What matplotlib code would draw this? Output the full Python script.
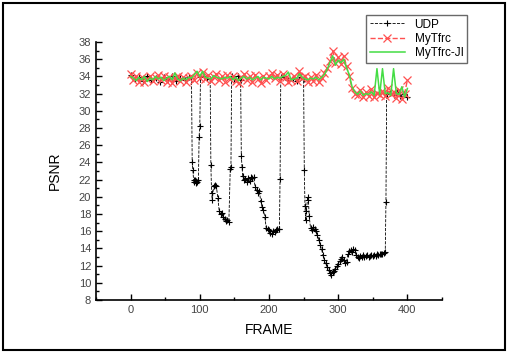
import matplotlib
matplotlib.use('Agg')
import matplotlib.pyplot as plt
from matplotlib.patches import Rectangle
from matplotlib.ticker import MultipleLocator

plt.rcParams['font.family'] = ['Liberation Sans', 'DejaVu Sans']

# MyTfrc and MyTfrc-JI sampled every 4 frames (0..400)
tfrc_frame = list(range(0, 401, 4))
tfrc_psnr = [34.3, 33.6, 34.0, 33.4, 33.9, 33.3, 33.7, 34.1, 33.5, 33.8, 34.2, 33.6, 34.0, 33.4, 33.9, 33.2, 33.8, 34.1, 33.5, 33.9, 33.3, 33.8,
             34.1, 33.6, 34.4, 33.8, 34.5, 33.7, 34.2, 33.5, 33.9, 34.3, 33.6, 34.0, 33.4, 34.2,
             33.7, 34.1, 33.5, 33.2, 33.9, 34.3, 33.6, 34.0, 33.3, 34.2, 33.7, 33.2, 34.1, 33.6, 34.0,
             34.4, 33.8, 34.2, 33.5, 34.3, 33.9, 33.4, 33.6, 34.1, 33.5, 34.6, 33.8, 34.0, 33.4, 33.9, 33.5, 34.2, 33.3, 33.8,
             34.4, 35.0, 35.8, 37.0, 35.6, 36.2, 35.5, 36.4, 35.2, 34.0, 32.6,
             32.0, 31.8, 32.4, 31.6, 32.2, 31.7, 32.5, 31.6, 32.1, 31.8, 32.3, 31.7, 32.6, 31.9, 32.2, 31.5, 32.4, 31.4, 32.0, 33.6]
ji_psnr = [34.0, 33.8, 33.5, 33.9, 33.6, 34.0, 33.4, 33.8, 33.6, 34.0, 33.7, 33.9, 33.5, 33.8, 34.0, 33.6, 34.4, 33.7, 33.5, 33.8, 33.6, 33.9,
           33.8, 34.2, 34.6, 34.0, 34.6, 33.9, 33.8, 33.7, 34.1, 33.9, 33.8, 33.7, 33.9, 33.8,
           34.0, 33.6, 33.9, 33.5, 33.8, 34.0, 33.7, 33.9, 33.6, 33.8, 34.0, 33.6, 33.9, 33.8, 33.7,
           34.0, 33.7, 33.9, 33.8, 34.0, 34.1, 34.5, 33.6, 33.7, 33.8, 34.3, 33.9, 33.7, 33.6, 33.8, 33.7, 33.9, 33.6, 33.9,
           34.2, 34.8, 35.6, 36.4, 35.3, 35.9, 35.6, 36.0, 35.0, 34.2, 32.8,
           32.2, 31.9, 32.3, 31.8, 32.0, 31.9, 32.2, 31.8, 34.9, 31.9, 34.9, 32.0, 32.1, 31.8, 34.9, 32.0, 31.9, 32.8, 31.6, 32.6]

# UDP (irregular frames)
udp_frame = [0, 6, 12, 18, 24, 30, 36, 42, 48, 54, 60, 66, 72, 78, 84,
             88, 89, 90, 91, 92, 93, 94, 95, 96, 98, 99, 100, 101,
             106, 111, 115, 116, 117, 118, 120, 122, 124, 126, 128, 130, 132, 134, 136, 138, 140, 142, 144, 145, 146,
             150, 155, 159, 160, 161, 162, 164, 166, 168, 170, 172, 174, 176, 178, 180, 182, 184, 186, 188, 190,
             192, 194, 196, 198, 200, 202, 204, 206, 208, 210, 212, 214, 215, 216, 217,
             222, 228, 234, 240, 246, 250, 251, 252, 253, 254, 256, 257, 258, 260, 262, 264, 266, 268, 270,
             272, 274, 276, 278, 280, 282, 284, 286, 288, 290, 292, 294, 296, 298, 300, 302, 304, 306, 308,
             310, 312, 314, 316, 318, 320, 322, 324, 326, 328, 330, 332, 334, 336, 338, 340, 342, 344, 346,
             348, 350, 352, 354, 356, 358, 360, 362, 364, 366, 368, 369, 370, 375, 380, 385, 390, 395, 400]
udp_psnr = [34.2, 33.7, 33.9, 33.5, 34.0, 33.6, 33.8, 33.4, 33.9, 33.7, 34.0, 33.5, 33.8, 33.6, 33.9,
            33.8, 24.1, 23.1, 22.0, 21.7, 21.9, 21.6, 21.8, 21.7, 21.9, 27.0, 28.2, 33.9,
            34.0, 33.8, 33.7, 23.7, 20.5, 19.6, 21.3, 21.4, 21.2, 19.9, 18.4, 18.0, 18.1, 17.6, 17.4, 17.2, 17.3, 17.1, 23.2, 23.5, 34.0,
            33.7, 34.1, 33.6, 24.7, 23.5, 22.4, 21.9, 22.1, 21.7, 22.2, 21.8, 22.3, 22.2, 22.3, 21.1, 20.8, 20.5, 20.7, 19.5, 18.8,
            18.5, 17.6, 16.4, 16.3, 16.1, 15.8, 15.7, 16.0, 15.9, 16.1, 16.2, 16.3, 16.2, 22.1, 33.9,
            34.1, 33.6, 33.8, 33.5, 33.9, 33.7, 23.1, 18.9, 17.3, 18.4, 20.0, 19.6, 17.8, 16.4, 16.1, 16.5, 16.2, 16.0, 15.6,
            15.0, 14.4, 13.9, 13.2, 12.7, 12.3, 11.8, 11.5, 11.1, 10.9, 11.3, 11.4, 11.6, 11.9, 12.2, 12.5, 12.8, 13.0, 12.6,
            12.3, 12.4, 13.4, 13.7, 13.8, 13.6, 13.9, 13.8, 13.2, 13.0, 12.9, 13.1, 13.0, 13.2, 13.0, 13.1, 13.2, 13.0, 13.1,
            13.2, 13.1, 13.2, 13.1, 13.3, 13.2, 13.3, 13.4, 13.3, 13.5, 13.6, 19.4, 31.9, 32.1, 31.8, 32.2, 31.7, 32.0, 31.6]

fig = plt.figure(figsize=(5.08, 3.53), dpi=100)
ax = fig.add_axes([96/508, 53/353, 346/508, 258/353])

ax.plot(udp_frame, udp_psnr, '--', color='black', lw=0.6, marker='+', ms=5, mew=0.8, label='UDP')
ax.plot(tfrc_frame, tfrc_psnr, '--', color='#ff5050', lw=1.0, marker='x', ms=6, mew=0.9, label='MyTfrc')
ax.plot(tfrc_frame, ji_psnr, '-', color='#44dd44', lw=1.1, label='MyTfrc-JI')

ax.set_xlim(-50, 450)
ax.set_ylim(8, 38)
ax.xaxis.set_major_locator(MultipleLocator(100))
ax.xaxis.set_minor_locator(MultipleLocator(50))
ax.yaxis.set_major_locator(MultipleLocator(2))
ax.yaxis.set_minor_locator(MultipleLocator(1))
for s in ['top', 'right']:
    ax.spines[s].set_visible(False)
for s in ['left', 'bottom']:
    ax.spines[s].set_linewidth(1.2)
ax.tick_params(which='both', direction='in', labelsize=8, labelcolor='#444444', width=1)
ax.tick_params(which='major', length=4)
ax.tick_params(which='minor', length=2.5)
ax.set_xlabel('FRAME', fontsize=10, labelpad=6)
ax.set_ylabel('PSNR', fontsize=10, labelpad=12)

fig.legend(loc='upper right', bbox_to_anchor=(467/508, 1 - 15/353), fontsize=8.5,
           frameon=True, fancybox=False, edgecolor='#444444', borderpad=0.3,
           handlelength=3, labelspacing=0.2, borderaxespad=0)

fig.patches.append(Rectangle((0.006, 0.008), 0.988, 0.984, transform=fig.transFigure,
                             fill=False, edgecolor='black', lw=1.5))

fig.savefig('out.png', dpi=100)
